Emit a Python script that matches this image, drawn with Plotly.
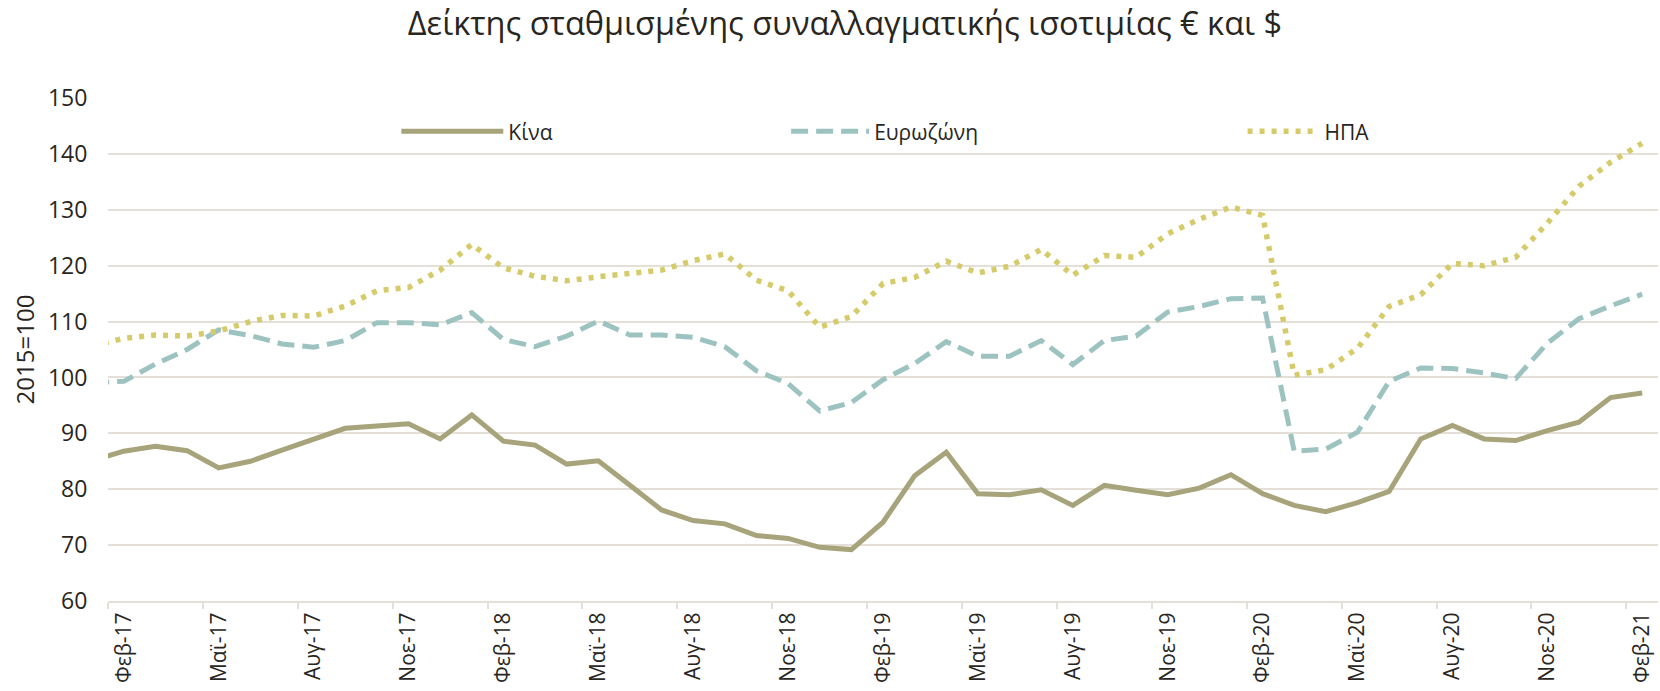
import plotly.graph_objects as go

# ---- data -------------------------------------------------------------
month_names = ["Ιαν", "Φεβ", "Μαρ", "Απρ", "Μαϊ", "Ιουν",
               "Ιουλ", "Αυγ", "Σεπ", "Οκτ", "Νοε", "Δεκ"]
years = ["17", "18", "19", "20", "21"]
categories = [f"{m}-{y}" for y in years for m in month_names]
categories = categories[:categories.index("Φεβ-21") + 1]   # Ιαν-17 ... Φεβ-21

china = [85.1, 86.8, 87.7, 86.9, 83.8, 85.0, 87.0, 88.9, 90.9, 91.3, 91.7, 89.0,
         93.3, 88.6, 87.9, 84.5, 85.1, 80.7, 76.3, 74.4, 73.8, 71.7, 71.2, 69.6,
         69.2, 74.1, 82.4, 86.6, 79.2, 79.0, 79.9, 77.1, 80.7, 79.8, 79.0, 80.2,
         82.6, 79.2, 77.1, 76.0, 77.6, 79.6, 89.0, 91.4, 89.0, 88.7, 90.5, 92.0,
         96.4, 97.2]
eurozone = [99.1, 99.3, 102.4, 105.0, 108.5, 107.5, 106.0, 105.4, 106.6, 109.8,
            109.8, 109.4, 111.6, 106.8, 105.5, 107.4, 110.1, 107.6, 107.6, 107.2,
            105.5, 101.2, 98.9, 94.0, 95.5, 99.6, 102.5, 106.4, 103.8, 103.8,
            106.6, 102.3, 106.6, 107.4, 111.7, 112.7, 114.1, 114.2, 86.8, 87.2,
            90.2, 99.3, 101.7, 101.6, 100.8, 99.8, 106.1, 110.5, 112.8, 114.9]
usa = [105.6, 107.0, 107.6, 107.4, 108.3, 110.0, 111.1, 111.0, 112.8, 115.5,
       116.1, 119.2, 123.8, 119.6, 118.1, 117.3, 118.0, 118.5, 119.2, 120.9,
       122.1, 117.4, 115.5, 109.0, 110.9, 116.8, 117.9, 120.8, 118.7, 119.9,
       122.9, 118.3, 121.8, 121.5, 125.7, 128.3, 130.5, 129.0, 100.4, 101.4,
       105.2, 112.7, 114.8, 120.4, 120.0, 121.5, 127.6, 134.2, 138.5, 141.9]

series_names = ["Κίνα", "Ευρωζώνη", "ΗΠΑ"]
title_text = "Δείκτης σταθμισμένης συναλλαγματικής ισοτιμίας € και $"
y_title = "2015=100"

# ---- style ------------------------------------------------------------
FONT = "Open Sans"
TXT = "#29261f"
GRID = "#e4e0d8"
C_CHINA = "#a7a37a"
C_EURO = "#9dc3c1"
C_USA = "#d5cb6a"

fig = go.Figure()
fig.add_trace(go.Scatter(x=categories, y=china, name=series_names[0], mode="lines",
                         line=dict(color=C_CHINA, width=5), legend="legend"))
fig.add_trace(go.Scatter(x=categories, y=eurozone, name=series_names[1], mode="lines",
                         line=dict(color=C_EURO, width=5, dash="17px,8px"), legend="legend2"))
fig.add_trace(go.Scatter(x=categories, y=usa, name=series_names[2], mode="lines",
                         line=dict(color=C_USA, width=5.5, dash="5px,7px"), legend="legend3"))

leg_common = dict(orientation="h", yanchor="middle", xanchor="left",
                  font=dict(family=FONT, size=21, color=TXT),
                  bgcolor="rgba(0,0,0,0)", borderwidth=0)

fig.update_layout(
    width=1660, height=691,
    margin=dict(l=108, r=2, t=98, b=90, autoexpand=False),
    paper_bgcolor="white", plot_bgcolor="white",
    font=dict(family=FONT, color=TXT),
    title=dict(text=title_text, x=0.509, xanchor="center", y=0.966, yanchor="middle",
               font=dict(family=FONT, size=32.5, color=TXT)),
    showlegend=True,
    legend=dict(x=0.186, y=0.933, itemwidth=102, **leg_common),
    legend2=dict(x=0.4375, y=0.933, itemwidth=78, **leg_common),
    legend3=dict(x=0.732, y=0.933, itemwidth=72, **leg_common),
    xaxis=dict(
        type="category", categoryorder="array", categoryarray=categories,
        range=[0.5, len(categories) - 0.5], automargin=False,
        tickmode="linear", tick0=1, dtick=3, tickson="boundaries",
        ticks="outside", ticklen=6, tickwidth=2, tickcolor=GRID,
        showline=True, linecolor=GRID, linewidth=2,
        showgrid=False, zeroline=False,
        tickangle=-90, tickfont=dict(family=FONT, size=21, color=TXT),
        ticklabelstandoff=1,
    ),
    yaxis=dict(
        range=[60, 150], dtick=10, tick0=60, automargin=False,
        showgrid=True, gridcolor=GRID, gridwidth=2,
        zeroline=False, showline=False,
        ticks="outside", ticklen=15, tickcolor="rgba(0,0,0,0)",
        tickfont=dict(family=FONT, size=23, color=TXT),
        title=dict(text=y_title, font=dict(family=FONT, size=24, color=TXT), standoff=6),
    ),
)

fig.write_html("out.html", config={"displayModeBar": False},
               post_script="document.body.style.margin='0';document.body.style.padding='0';")
